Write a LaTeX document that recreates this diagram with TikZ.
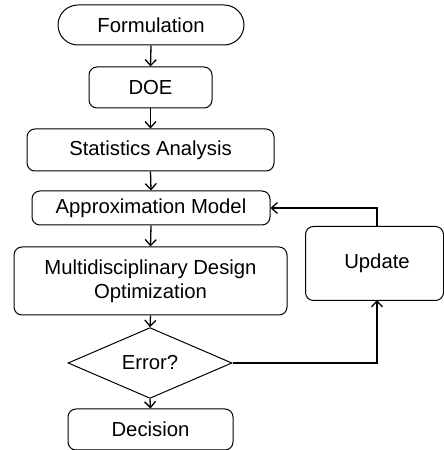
\documentclass[tikz,border=0pt]{standalone}
\usepackage{fontspec}
\setmainfont{Liberation Sans}
\usetikzlibrary{shapes.geometric,arrows.meta}
\begin{document}
\begin{tikzpicture}[x=1pt,y=1pt,
  box/.style={draw,line width=1pt,rounded corners=8pt,inner sep=0pt,align=center,
    font=\fontsize{20.3}{24}\selectfont},
  arr/.style={line width=1.3pt,-{Straight Barb[length=6pt,width=11pt,line width=1.3pt]}}]
\useasboundingbox (0,0) rectangle (444,450);
\node[box,rounded corners=20pt,minimum width=186pt,minimum height=40pt] (form) at (151,425) {Formulation};
\node[box,minimum width=123pt,minimum height=41pt] (doe) at (150.5,362.5) {DOE};
\node[box,minimum width=247pt,minimum height=42pt] (stat) at (150.5,300) {Statistics Analysis};
\node[box,minimum width=238pt,minimum height=34pt] (approx) at (151,242) {Approximation Model};
\node[box,minimum width=273pt,minimum height=68pt] (mdo) at (150.5,169) {Multidisciplinary Design\\Optimization};
\node[box,diamond,rounded corners=0pt,minimum width=164pt,minimum height=50pt] (err) at (150,87) {Error?};
\node[box,minimum width=165pt,minimum height=41pt] (dec) at (150.5,20.5) {Decision};
\node[box,minimum width=138pt,minimum height=74pt,anchor=north west] (upd) at (305,224) {};
\node[font=\fontsize{20.3}{24}\selectfont] (updt) at (377,187) {Update};
\coordinate (ut) at (377,224);
\coordinate (ub) at (377,150);
\draw[arr] (form.south) -- (doe.north);
\draw[arr] (doe.south) -- (stat.north);
\draw[arr] (stat.south) -- (approx.north);
\draw[arr] (approx.south) -- (mdo.north);
\draw[arr] (mdo.south) -- (err.north);
\draw[arr] (err.south) -- (dec.north);
\draw[arr] (ut) |- (approx.east);
\draw[arr] (err.east) -| (ub);
\end{tikzpicture}
\end{document}
